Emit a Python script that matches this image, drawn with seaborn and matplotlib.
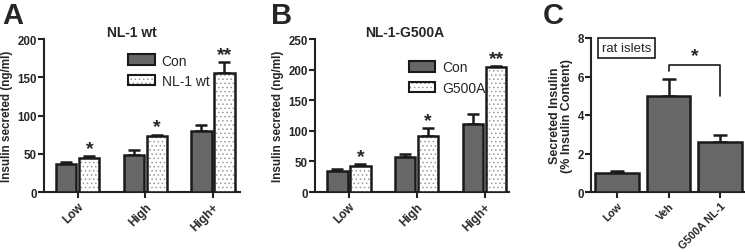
import numpy as np
import pandas as pd
import matplotlib
matplotlib.use("Agg")
import matplotlib.pyplot as plt
from matplotlib.patches import Patch, Rectangle
from matplotlib.legend_handler import HandlerTuple
import seaborn as sns

# ---------------- data ----------------
conditions = ["Low", "High", "High+"]
a_groups = ["Con", "NL-1 wt"]
a_con = [36, 48, 80]
a_con_err = [3, 7, 8]
a_wt = [45, 73, 155]
a_wt_err = [2, 2, 15]
a_stars = ["*", "*", "**"]

b_groups = ["Con", "G500A"]
b_con = [35, 57, 111]
b_con_err = [3, 5, 16]
b_mut = [43, 92, 204]
b_mut_err = [2, 12, 2]
b_stars = ["*", "*", "**"]

c_cats = ["Low", "Veh", "G500A NL-1"]
c_vals = [1.0, 5.0, 2.62]
c_err = [0.08, 0.85, 0.33]
c_bracket = [6.3, 6.6, 5.0]   # left foot, top, right foot

sns.set_theme(style="ticks")
plt.rcParams["font.family"] = ["Liberation Sans", "DejaVu Sans"]
plt.rcParams["hatch.linewidth"] = 0.6

DARK = "#676767"
HATCH_C = "#9a9a9a"
HATCH = "...."
LW = 1.8
INK = "#1a1a1a"

fig = plt.figure(figsize=(7.45, 2.53), dpi=100)
axA = fig.add_axes([44/745, 1-193/253, (240-44)/745, (193-40)/253])
axB = fig.add_axes([315/745, 1-193/253, (509-315)/745, (193-40)/253])
axC = fig.add_axes([591/745, 1-193/253, (745-591)/745, (193-39)/253])


def style_axes(ax, xsize=8.6):
    for s in ["top", "right"]:
        ax.spines[s].set_visible(False)
    for s in ["left", "bottom"]:
        ax.spines[s].set_linewidth(1.5)
        ax.spines[s].set_color("#222222")
    ax.tick_params(axis="both", direction="out", length=4, width=1.5,
                   color="#222222", labelsize=8.3, pad=1)
    ax.tick_params(axis="x", labelsize=xsize, pad=2)
    for lab in ax.get_yticklabels():
        lab.set_fontweight("bold")
    for lab in ax.get_xticklabels():
        lab.set_fontweight("bold")
        lab.set_rotation(45)
        lab.set_ha("right")
        lab.set_rotation_mode("anchor")


def grouped_panel(ax, groups, con, con_err, trt, trt_err, stars, ymax, step,
                  title, title_x, xlim):
    df = pd.DataFrame({
        "cond": conditions * 2,
        "group": [groups[0]] * 3 + [groups[1]] * 3,
        "val": list(con) + list(trt),
    })
    errs = list(con_err) + list(trt_err)
    sns.barplot(data=df, x="cond", y="val", hue="group", ax=ax,
                palette=[DARK, "white"], width=0.68, gap=0.12,
                edgecolor=INK, linewidth=LW, errorbar=None,
                legend=False, zorder=3, saturation=1)
    patches = [p for p in ax.patches if isinstance(p, Rectangle)][:6]
    for i, p in enumerate(patches):
        x = p.get_x() + p.get_width() / 2
        h = p.get_height()
        ax.errorbar([x], [h], yerr=[[0], [errs[i]]], fmt="none",
                    ecolor=INK, elinewidth=LW, capsize=4,
                    capthick=LW, zorder=2)
        if i >= 3:
            p.set_hatch(HATCH)
            p.set_edgecolor(HATCH_C)
            p.set_linewidth(0)
            ax.add_patch(Rectangle(p.get_xy(), p.get_width(), h, fill=False,
                                   ec=INK, lw=LW, zorder=4))
            ax.text(x, h + errs[i] - ymax * 0.005, stars[i - 3], ha="center",
                    va="bottom", fontsize=14, fontweight="bold")
    ax.set_ylim(0, ymax)
    ax.set_yticks(np.arange(0, ymax + 1, step))
    ax.set_xlim(*xlim)
    ax.set_xlabel("")
    ax.set_ylabel("Insulin secreted (ng/ml)", fontsize=8.4, fontweight="bold",
                  labelpad=3)
    ax.set_title(title, fontsize=10, fontweight="bold", pad=2, x=title_x)
    style_axes(ax)
    h_con = Patch(facecolor=DARK, edgecolor=INK, lw=1.5)
    h_hatch = Patch(facecolor="white", edgecolor=HATCH_C, hatch=HATCH, lw=0)
    h_frame = Patch(facecolor="none", edgecolor=INK, lw=1.5)
    return [h_con, (h_hatch, h_frame)]


leg_kw = dict(handler_map={tuple: HandlerTuple(ndivide=1, pad=0)},
              loc="upper left", frameon=False, fontsize=10, handlelength=1.9,
              handleheight=0.8, borderpad=0, labelspacing=0.45,
              handletextpad=0.5, borderaxespad=0)

handles = grouped_panel(axA, a_groups, a_con, a_con_err, a_wt, a_wt_err,
                        a_stars, 200, 50, "NL-1 wt", 0.45, (-0.5, 2.4))
axA.legend(handles, a_groups, bbox_to_anchor=(0.43, 0.905), **leg_kw)

handles = grouped_panel(axB, b_groups, b_con, b_con_err, b_mut, b_mut_err,
                        b_stars, 250, 50, "NL-1-G500A", 0.46, (-0.5, 2.36))
axB.legend(handles, b_groups, bbox_to_anchor=(0.485, 0.86), **leg_kw)

# ---------------- panel C ----------------
dfc = pd.DataFrame({"cat": c_cats, "val": c_vals})
sns.barplot(data=dfc, x="cat", y="val", ax=axC, color=DARK, width=0.84,
            edgecolor=INK, linewidth=LW, errorbar=None, zorder=3,
            saturation=1)
cpatches = [p for p in axC.patches if isinstance(p, Rectangle)][:3]
for i, p in enumerate(cpatches):
    x = p.get_x() + p.get_width() / 2
    axC.errorbar([x], [p.get_height()], yerr=[[0], [c_err[i]]], fmt="none",
                 ecolor=INK, elinewidth=LW, capsize=5, capthick=LW,
                 zorder=2)
axC.plot([1, 1, 2, 2], [c_bracket[0], c_bracket[1], c_bracket[1], c_bracket[2]],
         color=INK, lw=1.2)
axC.text(1.5, c_bracket[1] + 0.02, "*", ha="center", va="bottom",
         fontsize=14, fontweight="bold")
axC.text(0.07, 0.935, "rat islets", transform=axC.transAxes, ha="left",
         va="center", fontsize=9.5,
         bbox=dict(boxstyle="square,pad=0.3", fc="white", ec=INK, lw=1.2))
axC.set_ylim(0, 8)
axC.set_yticks([0, 2, 4, 6, 8])
axC.set_xlim(-0.5, 2.48)
axC.set_xlabel("")
axC.set_ylabel("Secreted Insulin\n(% Insulin Content)", fontsize=9,
               fontweight="bold", labelpad=3, linespacing=1.0)
style_axes(axC, xsize=7.8)

# panel letters
for lbl, x in [("A", 2), ("B", 271), ("C", 543)]:
    fig.text(x / 745, 1 - 2 / 253, lbl, fontsize=21, fontweight="bold",
             ha="left", va="top")

fig.savefig("out.png", dpi=100)
